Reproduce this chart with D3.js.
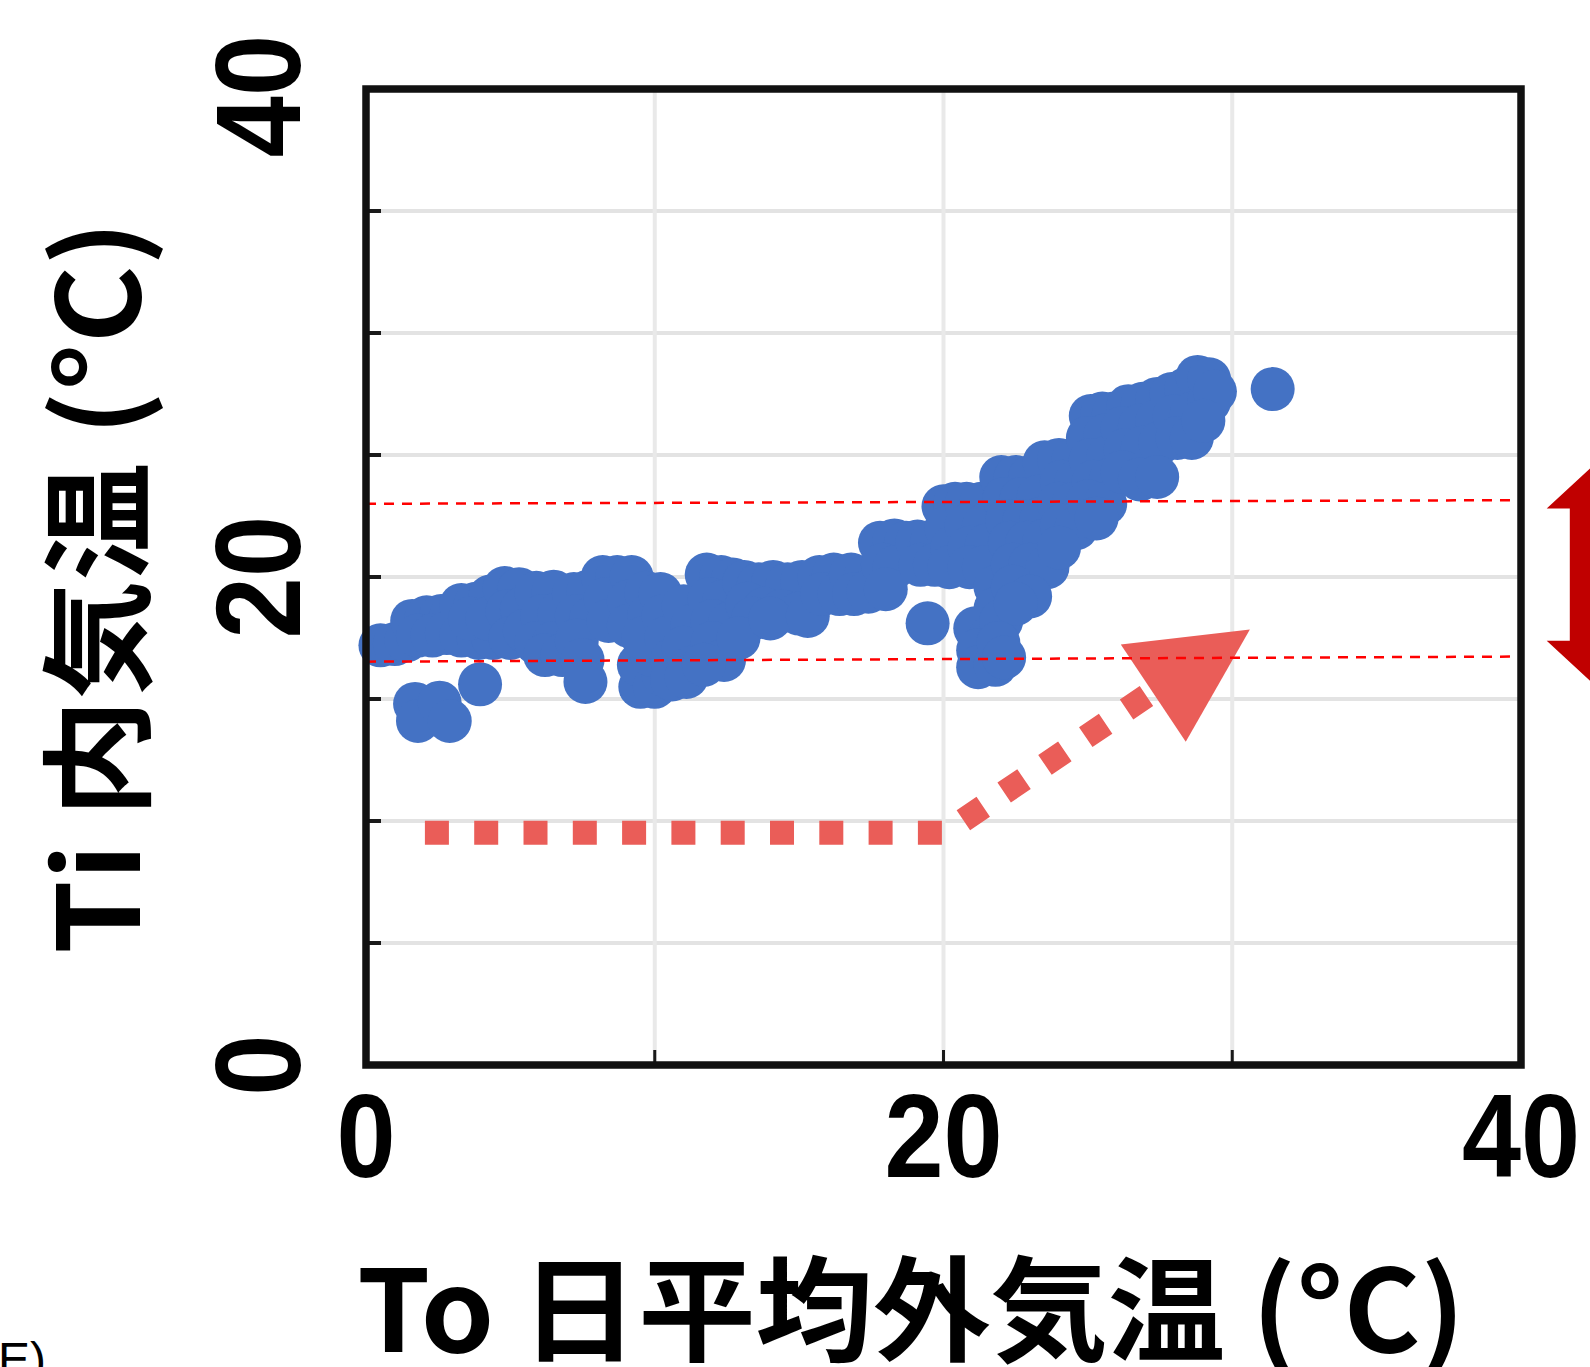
<!DOCTYPE html>
<html>
<head>
<meta charset="utf-8">
<script src="https://cdn.jsdelivr.net/npm/d3@7"></script>
<style>
  body { margin: 0; background: #fff; }
  svg { display: block; }
</style>
</head>
<body>
<svg id="chart" width="1590" height="1367"></svg>
<script>
// To: 日平均外気温, Ti: 内気温 (one entry per day)
var toTemp = [
  0.5, 1.0, 1.4,
  1.6, 2.1, 2.6, 2.95, 1.8, 2.3, 2.8,
  1.7, 1.8, 2.55, 2.9, 3.95,
  3.3, 3.8, 4.3, 3.3, 3.9, 4.4, 3.6, 4.2,
  4.8, 5.3, 4.9, 5.4, 5.0, 5.5,
  5.9, 6.5, 6.1, 6.7, 5.9, 6.5, 6.2, 6.8,
  7.2, 7.7, 7.3, 7.8, 7.3, 7.5, 7.6, 8.2, 8.7, 8.3, 8.4,
  9.2, 9.1, 9.1, 9.5, 9.45, 10.0, 10.3, 9.9, 9.7, 9.8, 9.6, 10.2, 10.3, 10.4, 10.6, 10.6,
  11.0, 11.3, 11.0, 11.3, 11.1,
  11.8, 12.3, 12.7, 11.9, 12.4, 12.0, 12.6, 12.0, 12.4, 11.7,
  13.1, 13.6, 14.1, 14.6, 15.1, 13.2, 13.8, 14.4, 15.0, 13.4, 12.9, 14.0, 15.3,
  15.7, 16.2, 15.8, 16.4,
  16.8, 17.3, 16.9, 17.4,
  17.8, 18.3, 18.7, 17.9, 18.3, 18.0,
  19.1, 19.6, 19.2, 19.7, 19.45,
  20.0, 20.4, 20.1, 20.3, 20.2,
  20.8, 21.3, 20.8, 21.4, 20.9, 21.5, 20.9, 21.4, 21.8, 21.8, 21.1, 21.6, 21.2, 21.2, 21.8,
  22.0, 22.5, 23.0, 23.5, 22.1, 22.7, 23.3, 22.2, 22.8, 23.4, 22.3, 22.9, 23.5, 22.4, 23.0, 23.6, 22.4, 23.0, 22.0, 22.5, 21.9, 22.1,
  24.0, 24.5, 24.1, 24.6, 24.0, 24.5, 24.1, 24.6, 24.0,
  25.1, 25.5, 25.9, 25.0, 25.6, 25.1, 25.7, 25.2, 25.8, 25.0, 25.6, 25.3,
  26.4, 26.9, 27.4, 26.2, 26.8, 27.4, 26.3, 26.9, 27.5, 26.2, 26.8, 27.4,
  27.9, 28.4, 28.8, 29.2, 28.0, 28.6, 29.2, 29.4, 28.1, 28.6, 29.0,
  31.4
];
var tiTemp = [
  17.2, 17.25, 17.4,
  18.2, 18.35, 18.4, 18.4, 17.6, 17.6, 17.7,
  14.8, 14.1, 14.85, 14.1, 15.6,
  18.85, 18.9, 19.2, 17.6, 17.5, 17.5, 18.3, 18.3,
  19.55, 19.5, 18.6, 18.7, 17.5, 17.8,
  19.35, 19.4, 18.4, 18.5, 17.3, 17.3, 16.8, 16.8,
  19.3, 19.4, 18.4, 18.3, 17.4, 16.6, 15.7, 20.0, 20.0, 19.1, 18.2,
  20.0, 19.0, 18.0, 15.5, 16.4, 15.5, 16.0, 16.8, 19.35, 18.4, 17.5, 19.3, 18.4, 17.5, 16.6, 15.8,
  18.8, 18.0, 17.1, 16.3, 15.9,
  20.1, 20.0, 19.9, 19.1, 19.0, 18.2, 18.1, 17.3, 16.6, 16.4,
  19.8, 19.7, 19.8, 19.7, 19.8, 18.9, 18.7, 18.6, 18.5, 18.3, 17.5, 18.3, 18.4,
  20.0, 20.1, 19.3, 19.3,
  20.1, 20.0, 19.3, 19.4,
  21.4, 21.5, 21.4, 20.5, 20.4, 19.5,
  21.45, 21.45, 20.5, 20.5, 18.1,
  22.9, 23.0, 22.0, 21.2, 20.4,
  23.0, 23.0, 22.1, 22.1, 21.2, 21.3, 20.4, 20.4, 19.6, 18.7, 17.9, 17.5, 17.0, 16.3, 16.4,
  24.1, 24.1, 24.1, 24.7, 23.2, 23.2, 23.3, 22.3, 22.3, 22.4, 21.4, 21.4, 21.5, 20.5, 20.5, 20.4, 19.6, 19.2, 18.2, 18.9, 17.3, 16.7,
  24.8, 24.8, 23.9, 23.9, 23.0, 23.0, 22.1, 22.0, 21.2,
  26.6, 26.7, 26.7, 25.7, 25.8, 24.8, 24.9, 23.9, 24.0, 23.1, 23.0, 22.4,
  27.0, 27.1, 27.3, 26.1, 26.2, 26.4, 25.2, 25.3, 25.5, 24.3, 24.0, 24.1,
  27.5, 27.7, 28.2, 28.1, 26.6, 26.7, 27.2, 27.6, 25.7, 25.7, 26.4,
  27.7
];

var xTickLabels = [0, 20, 40];
var yTickLabels = [0, 20, 40];
var xGridValues = [10, 20, 30];
var yGridValues = [5, 10, 15, 20, 25, 30, 35];

// red dashed band, value at left and right edge of the frame
var bandUpper = [[0, 23.0], [40, 23.15]];
var bandLower = [[0, 16.53], [40, 16.74]];

// salmon trend sketch and its arrow head
var trendLine = [[2.04, 9.52], [20.05, 9.52], [27.15, 15.22]];
var trendHead = [[26.14, 17.23], [30.61, 17.85], [28.39, 13.25]];

// dark red double arrow at the right, cut by the page edge
var rangeArrow = [
  [42.73, 24.82], [40.89, 22.81], [41.69, 22.81], [41.69, 17.39], [40.89, 17.39],
  [42.73, 15.38], [44.57, 17.39], [43.77, 17.39], [43.77, 22.81], [44.57, 22.81]
];

var xTitle = "To 日平均外気温 (°C)";
var yTitle = "Ti 内気温 (°C)";

var svg = d3.select("#chart");
var width = 1590, height = 1367;

svg.append("rect").attr("width", width).attr("height", height).attr("fill", "#fff");

var x = d3.scaleLinear().domain([0, 40]).range([366, 1521]);
var y = d3.scaleLinear().domain([0, 40]).range([1065, 89]);

// grid
svg.append("g")
  .selectAll("line")
  .data(yGridValues)
  .enter()
  .append("line")
  .attr("x1", x(0)).attr("x2", x(40))
  .attr("y1", function (d) { return y(d); })
  .attr("y2", function (d) { return y(d); })
  .style("stroke", "#e3e3e3")
  .style("stroke-width", 4);

svg.append("g")
  .selectAll("line")
  .data(xGridValues)
  .enter()
  .append("line")
  .attr("y1", y(0)).attr("y2", y(40))
  .attr("x1", function (d) { return x(d); })
  .attr("x2", function (d) { return x(d); })
  .style("stroke", "#e9e9e9")
  .style("stroke-width", 4);

// trend sketch
var lineGen = d3.line()
  .x(function (d) { return x(d[0]); })
  .y(function (d) { return y(d[1]); });

svg.append("path")
  .attr("d", lineGen(trendLine))
  .style("fill", "none")
  .style("stroke", "#ea5d58")
  .style("stroke-width", 24)
  .style("stroke-dasharray", "24 25.3");

svg.append("path")
  .attr("d", lineGen(trendHead) + "Z")
  .style("fill", "#ea5d58");

// scatter
var points = toTemp.map(function (t, i) { return { to: t, ti: tiTemp[i] }; });

svg.append("g")
  .selectAll("circle")
  .data(points)
  .enter()
  .append("circle")
  .attr("cx", function (d) { return x(d.to); })
  .attr("cy", function (d) { return y(d.ti); })
  .attr("r", 22)
  .style("fill", "#4472c4");

// band lines
svg.append("g")
  .selectAll("path")
  .data([bandUpper, bandLower])
  .enter()
  .append("path")
  .attr("d", function (d) { return lineGen(d); })
  .style("fill", "none")
  .style("stroke", "#ff0000")
  .style("stroke-width", 2.5)
  .style("stroke-dasharray", "10 8");

// ticks
svg.append("g")
  .selectAll("line")
  .data(yGridValues)
  .enter()
  .append("line")
  .attr("x1", x(0)).attr("x2", x(0) + 15)
  .attr("y1", function (d) { return y(d); })
  .attr("y2", function (d) { return y(d); })
  .style("stroke", "#1a1a1a")
  .style("stroke-width", 4);

svg.append("g")
  .selectAll("line")
  .data(xGridValues)
  .enter()
  .append("line")
  .attr("y1", y(0)).attr("y2", y(0) - 15)
  .attr("x1", function (d) { return x(d); })
  .attr("x2", function (d) { return x(d); })
  .style("stroke", "#1a1a1a")
  .style("stroke-width", 3);

// frame
svg.append("rect")
  .attr("x", x(0)).attr("y", y(40))
  .attr("width", x(40) - x(0)).attr("height", y(0) - y(40))
  .style("fill", "none")
  .style("stroke", "#111")
  .style("stroke-width", 7.5);

// right double arrow
svg.append("path")
  .attr("d", lineGen(rangeArrow) + "Z")
  .style("fill", "#c00000");

// tick labels
svg.append("g")
  .selectAll("text")
  .data(xTickLabels)
  .enter()
  .append("text")
  .attr("transform", function (d) { return "translate(" + x(d) + ",1177) scale(0.9,1)"; })
  .attr("text-anchor", "middle")
  .style("font-family", "'Liberation Sans', Arial, sans-serif")
  .style("font-weight", "bold")
  .style("font-size", "118px")
  .text(function (d) { return d; });

svg.append("g")
  .selectAll("text")
  .data(yTickLabels)
  .enter()
  .append("text")
  .attr("transform", function (d) { return "translate(300," + (y(d) + (d === 40 ? 7 : 0)) + ") rotate(-90) scale(0.92,1)"; })
  .attr("text-anchor", "middle")
  .style("font-family", "'Liberation Sans', Arial, sans-serif")
  .style("font-weight", "bold")
  .style("font-size", "120px")
  .text(function (d) { return d; });

// axis titles
svg.append("text")
  .attr("x", 357)
  .attr("y", 1352)
  .attr("textLength", 1108)
  .attr("lengthAdjust", "spacingAndGlyphs")
  .style("font-family", "'Noto Sans CJK JP', sans-serif")
  .style("font-weight", "bold")
  .style("font-size", "114px")
  .text(xTitle);

svg.append("text")
  .attr("transform", "translate(140,954) rotate(-90)")
  .attr("textLength", 733)
  .attr("lengthAdjust", "spacingAndGlyphs")
  .style("font-family", "'Noto Sans CJK JP', sans-serif")
  .style("font-weight", "bold")
  .style("font-size", "114px")
  .text(yTitle);

// cut-off label from the neighbouring panel
svg.append("text")
  .attr("x", -2)
  .attr("y", 1376)
  .style("font-family", "'Liberation Sans', Arial, sans-serif")
  .style("font-size", "48px")
  .text("E)");
</script>
</body>
</html>
